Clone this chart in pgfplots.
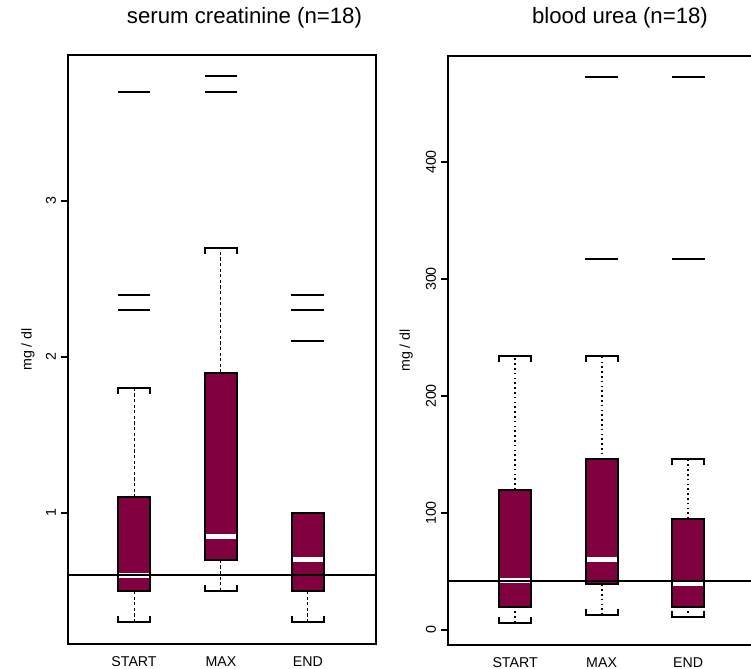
\documentclass[border=0pt]{standalone}
\usepackage{pgfplots}
\pgfplotsset{compat=1.18}
\usepackage{fontspec}
\setmainfont{Liberation Sans}
\definecolor{boxc}{RGB}{128,0,64}
\pgfplotsset{
  panel/.style={
    scale only axis, width=153.8pt, height=294.5pt,
    anchor=south west,
    axis line style={line width=1pt},
    xtick={1,2,3}, xticklabels={START,MAX,END},
    x tick style={draw=none},
    xticklabel style={font=\fontsize{7.1}{8}\selectfont, anchor=center, yshift=-5.5pt},
    ytick pos=left, tick align=outside, major tick length=3.5pt,
    y tick style={line width=0.8pt, black},
    yticklabel style={font=\fontsize{7.1}{8}\selectfont, xshift=-5pt, rotate=90, anchor=center},
    ylabel={mg / dl},
    ylabel style={font=\fontsize{7.1}{8}\selectfont, anchor=center},
    /pgf/number format/assume math mode=true,
  },
  boxst/.style={fill=boxc, draw=black, line width=1pt, line join=miter},
  medst/.style={white, line width=2.6pt},
  whL/.style={black, line width=0.5pt, dash pattern=on 1.6pt off 1.2pt},
  whR/.style={black, line width=1pt, dash pattern=on 0.8pt off 1.6pt},
  capst/.style={black, line width=1pt, line join=miter},
  outst/.style={only marks, mark=-, mark size=8.2pt, mark options={line width=1pt, black}},
  refst/.style={black, line width=0.9pt},
}
\begin{document}
\begin{tikzpicture}[x=1pt,y=1pt]
% ---------------- serum creatinine ----------------
\begin{axis}[panel, at={(34pt,12.5pt)},
  xmin=0.24, xmax=3.78, ymin=0.16, ymax=3.936,
  ytick={1,2,3},
  ylabel style={at={(axis description cs:-0.13,0.5)}}]
% START
\addplot[boxst] coordinates {(0.816,0.5) (1.184,0.5) (1.184,1.1) (0.816,1.1)} -- cycle;
\addplot[medst] coordinates {(0.828,0.6) (1.172,0.6)};
\addplot[whL] coordinates {(1,1.1) (1,1.8)};
\addplot[whL] coordinates {(1,0.5) (1,0.3)};
\addplot[capst] coordinates {(0.816,1.762) (0.816,1.8) (1.184,1.8) (1.184,1.762)};
\addplot[capst] coordinates {(0.816,0.338) (0.816,0.3) (1.184,0.3) (1.184,0.338)};
\addplot[outst] coordinates {(1,2.3) (1,2.4) (1,3.7)};
% MAX
\addplot[boxst] coordinates {(1.816,0.7) (2.184,0.7) (2.184,1.9) (1.816,1.9)} -- cycle;
\addplot[medst] coordinates {(1.828,0.85) (2.172,0.85)};
\addplot[whL] coordinates {(2,1.9) (2,2.7)};
\addplot[whL] coordinates {(2,0.7) (2,0.5)};
\addplot[capst] coordinates {(1.816,2.662) (1.816,2.7) (2.184,2.7) (2.184,2.662)};
\addplot[capst] coordinates {(1.816,0.538) (1.816,0.5) (2.184,0.5) (2.184,0.538)};
\addplot[outst] coordinates {(2,3.7) (2,3.8)};
% END
\addplot[boxst] coordinates {(2.816,0.5) (3.184,0.5) (3.184,1.0) (2.816,1.0)} -- cycle;
\addplot[medst] coordinates {(2.828,0.7) (3.172,0.7)};
\addplot[whL] coordinates {(3,0.5) (3,0.3)};
\addplot[capst] coordinates {(2.816,0.338) (2.816,0.3) (3.184,0.3) (3.184,0.338)};
\addplot[outst] coordinates {(3,2.1) (3,2.3) (3,2.4)};
% reference line
\addplot[refst] coordinates {(0.24,0.6) (3.78,0.6)};
\end{axis}
% ---------------- blood urea ----------------
\begin{axis}[panel, at={(224pt,12pt)},
  xmin=0.224, xmax=3.78, ymin=-12.8, ymax=490.6,
  ytick={0,100,200,300,400},
  ylabel style={at={(axis description cs:-0.136,0.5)}}]
% START
\addplot[boxst] coordinates {(0.816,20) (1.184,20) (1.184,120) (0.816,120)} -- cycle;
\addplot[medst] coordinates {(0.828,42) (1.172,42)};
\addplot[whR] coordinates {(1,120) (1,234)};
\addplot[whR] coordinates {(1,20) (1,6)};
\addplot[capst] coordinates {(0.816,229) (0.816,234) (1.184,234) (1.184,229)};
\addplot[capst] coordinates {(0.816,11) (0.816,6) (1.184,6) (1.184,11)};
% MAX
\addplot[boxst] coordinates {(1.816,39) (2.184,39) (2.184,146) (1.816,146)} -- cycle;
\addplot[medst] coordinates {(1.828,60) (2.172,60)};
\addplot[whR] coordinates {(2,146) (2,234)};
\addplot[whR] coordinates {(2,39) (2,13)};
\addplot[capst] coordinates {(1.816,229) (1.816,234) (2.184,234) (2.184,229)};
\addplot[capst] coordinates {(1.816,18) (1.816,13) (2.184,13) (2.184,18)};
\addplot[outst] coordinates {(2,317) (2,473)};
% END
\addplot[boxst] coordinates {(2.816,20) (3.184,20) (3.184,95) (2.816,95)} -- cycle;
\addplot[medst] coordinates {(2.828,40) (3.172,40)};
\addplot[whR] coordinates {(3,95) (3,146)};
\addplot[whR] coordinates {(3,20) (3,11)};
\addplot[capst] coordinates {(2.816,141) (2.816,146) (3.184,146) (3.184,141)};
\addplot[capst] coordinates {(2.816,16) (2.816,11) (3.184,11) (3.184,16)};
\addplot[outst] coordinates {(3,317) (3,473)};
% reference line
\addplot[refst] coordinates {(0.224,42) (3.78,42)};
\end{axis}
\node[font=\fontsize{11.1}{13}\selectfont] at (122.25pt,325.5pt) {serum creatinine (n=18)};
\node[font=\fontsize{11.1}{13}\selectfont] at (310pt,325.5pt) {blood urea (n=18)};
\pgfresetboundingbox
\path[use as bounding box] (0,0) rectangle (375.5pt,334.5pt);
\end{tikzpicture}
\end{document}
